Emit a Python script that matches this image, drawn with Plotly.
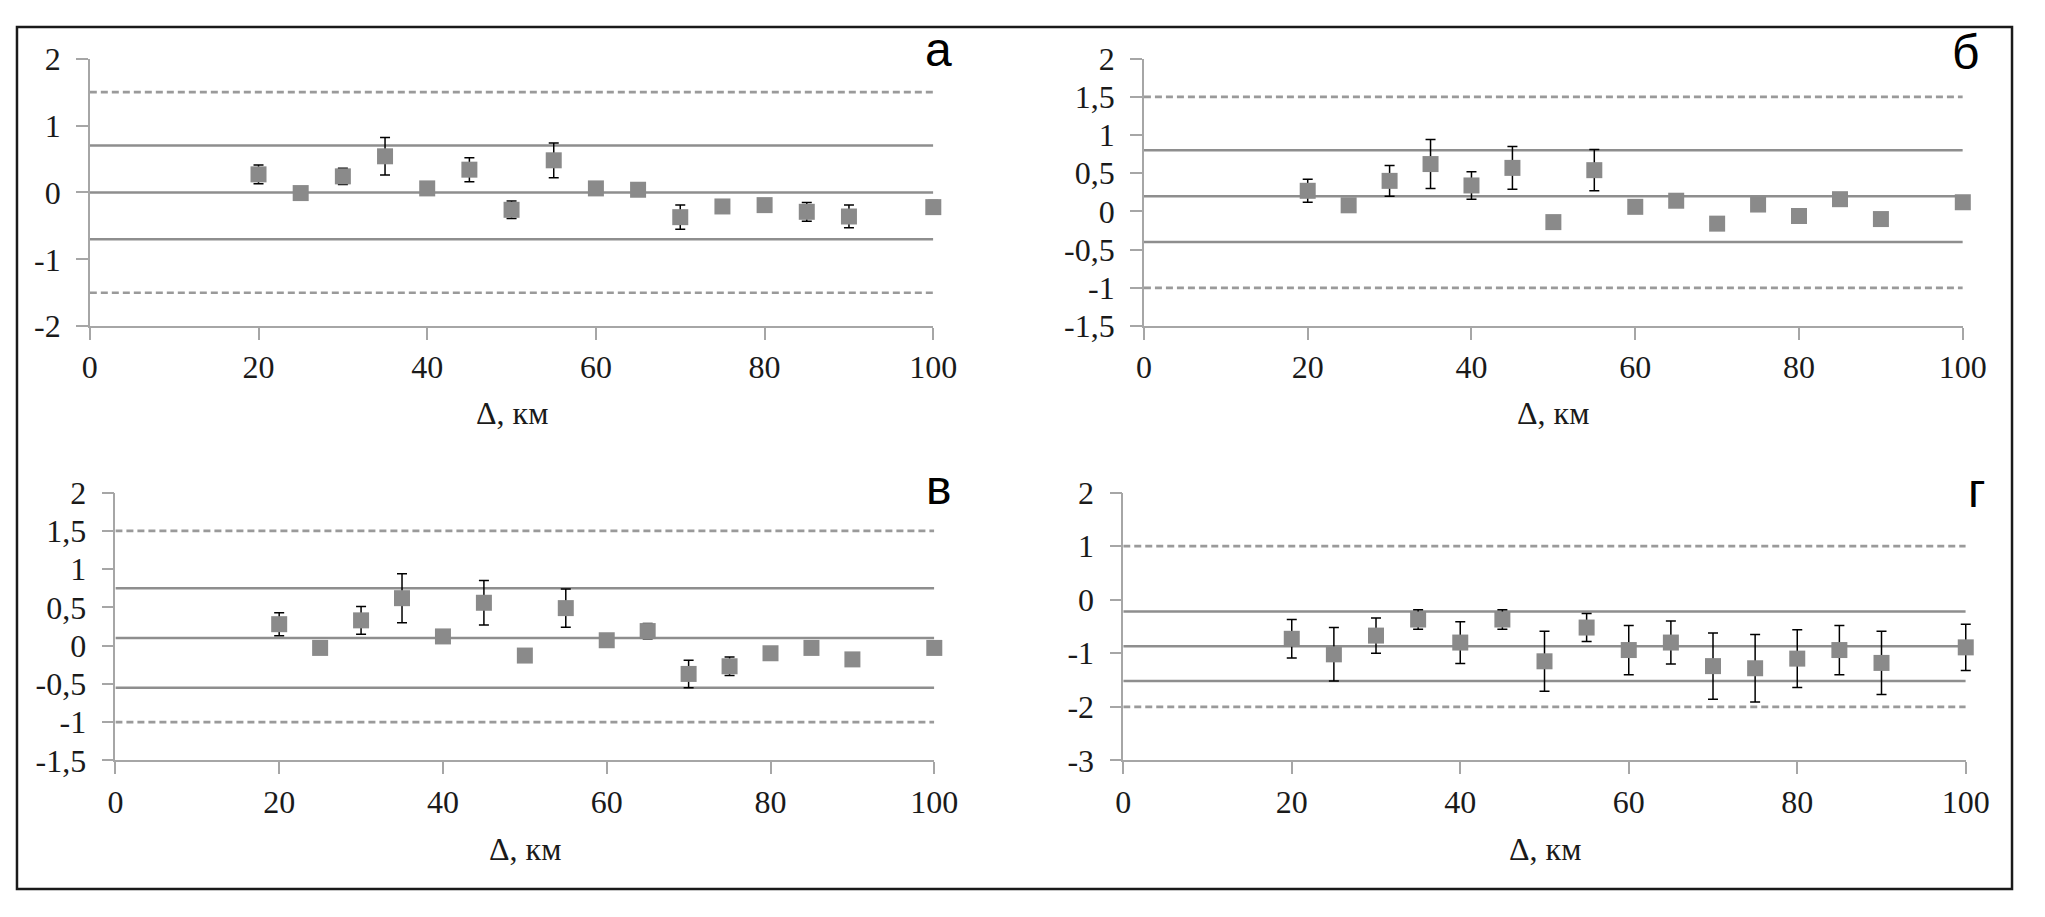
import plotly.graph_objects as go

# page is 2045x917; the html body keeps its default 8px margin, so the figure is 16px smaller
OFF = 8
W, H = 2029, 900

# ---- data ----
dist = [20, 25, 30, 35, 40, 45, 50, 55, 60, 65, 70, 75, 80, 85, 90, 100]

a_vals = [0.27, -0.01, 0.24, 0.54, 0.06, 0.34, -0.26, 0.48, 0.06, 0.04, -0.37, -0.21, -0.19, -0.29, -0.36, -0.22]
a_err = [0.14, 0.05, 0.12, 0.28, 0.05, 0.18, 0.13, 0.26, 0.05, 0.05, 0.18, 0.10, 0.08, 0.14, 0.17, 0.10]
a_solid = [0.7, 0.0, -0.7]
a_dash = [1.5, -1.5]

b_vals = [0.27, 0.08, 0.40, 0.62, 0.34, 0.57, -0.14, 0.54, 0.06, 0.14, -0.16, 0.09, -0.06, 0.16, -0.10, 0.12]
b_err = [0.15, 0.03, 0.20, 0.32, 0.18, 0.28, 0.03, 0.27, 0.03, 0.05, 0.03, 0.05, 0.03, 0.07, 0.03, 0.03]
b_solid = [0.8, 0.2, -0.4]
b_dash = [1.5, -1.0]

v_vals = [0.28, -0.03, 0.33, 0.62, 0.12, 0.56, -0.13, 0.49, 0.07, 0.19, -0.37, -0.27, -0.10, -0.03, -0.18, -0.03]
v_err = [0.15, 0.03, 0.18, 0.32, 0.05, 0.29, 0.03, 0.25, 0.03, 0.10, 0.18, 0.12, 0.03, 0.03, 0.08, 0.03]
v_solid = [0.75, 0.1, -0.55]
v_dash = [1.5, -1.0]

g_vals = [-0.73, -1.02, -0.67, -0.37, -0.80, -0.37, -1.15, -0.52, -0.94, -0.80, -1.24, -1.28, -1.10, -0.94, -1.18, -0.89]
g_err = [0.36, 0.50, 0.33, 0.18, 0.39, 0.18, 0.56, 0.26, 0.46, 0.40, 0.62, 0.63, 0.54, 0.46, 0.59, 0.43]
g_solid = [-0.22, -0.87, -1.52]
g_dash = [1.0, -2.0]

x_ticks = [0, 20, 40, 60, 80, 100]
x_ticktext = ["0", "20", "40", "60", "80", "100"]
y_ticks_a = [2, 1, 0, -1, -2]
y_text_a = ["2", "1", "0", "-1", "-2"]
y_ticks_b = [2, 1.5, 1, 0.5, 0, -0.5, -1, -1.5]
y_text_b = ["2", "1,5", "1", "0,5", "0", "-0,5", "-1", "-1,5"]
y_ticks_g = [2, 1, 0, -1, -2, -3]
y_text_g = ["2", "1", "0", "-1", "-2", "-3"]

panel_labels = ["а", "б", "в", "г"]
x_title = "Δ, км"
X_MIN, X_MAX = 0, 100

# ---- layout geometry (page pixels) ----
panels = [
    dict(vals=a_vals, err=a_err, solid=a_solid, dash=a_dash, yr=[-2, 2], yt=y_ticks_a, ytt=y_text_a,
         px=(83, 940), py=(42, 320.7), lab=(945, 32), title_y=411),
    dict(vals=b_vals, err=b_err, solid=b_solid, dash=b_dash, yr=[-1.5, 2], yt=y_ticks_b, ytt=y_text_b,
         px=(1154, 1986), py=(42, 320.5), lab=(1989, 36), title_y=411),
    dict(vals=v_vals, err=v_err, solid=v_solid, dash=v_dash, yr=[-1.5, 2], yt=y_ticks_b, ytt=y_text_b,
         px=(109, 941), py=(494, 773), lab=(946, 489), title_y=865),
    dict(vals=g_vals, err=g_err, solid=g_solid, dash=g_dash, yr=[-3, 2], yt=y_ticks_g, ytt=y_text_g,
         px=(1133, 1989), py=(494, 773), lab=(2000, 492), title_y=865),
]


def fx(px):
    return (px - OFF) / W


def fy(py):
    return 1 - (py - OFF) / H


AXIS_COL = "#a6a6a6"
LINE_COL = "#8e8e8e"
DASH_COL = "#9a9a9a"
MARK_COL = "#8a8a8a"
TXT_COL = "#1a1a1a"
SERIF = "Liberation Serif, Times New Roman, serif"
SANS = "Liberation Sans, Arial, sans-serif"
FS = 32
EXT = 10  # px of extra clip room for the marker/error-bar layer

fig = go.Figure()
layout = dict(width=W, height=H, margin=dict(l=0, r=0, t=0, b=0),
              paper_bgcolor="white", plot_bgcolor="rgba(0,0,0,0)", showlegend=False,
              font=dict(family=SERIF, size=FS, color=TXT_COL),
              annotations=[], shapes=[])

for i, p in enumerate(panels):
    n = "" if i == 0 else str(i + 1)
    xa, ya = "x" + n, "y" + n
    m = str(i + 5)
    xm = "x" + m
    for lv in p["solid"]:
        fig.add_trace(go.Scatter(x=[X_MIN, X_MAX], y=[lv, lv], mode="lines", xaxis=xa, yaxis=ya,
                                 line=dict(color=LINE_COL, width=2.5), hoverinfo="skip"))
    for lv in p["dash"]:
        fig.add_trace(go.Scatter(x=[X_MIN, X_MAX], y=[lv, lv], mode="lines", xaxis=xa, yaxis=ya,
                                 line=dict(color=DASH_COL, width=2.7, dash="7px,4px"), hoverinfo="skip"))
    fig.add_trace(go.Scatter(x=dist, y=p["vals"], mode="markers", xaxis=xm, yaxis=ya,
                             marker=dict(symbol="square", size=16, color=MARK_COL),
                             error_y=dict(type="data", array=p["err"], visible=True,
                                          color="#000000", thickness=1.5, width=5),
                             cliponaxis=False))
    xd = [fx(p["px"][0]), fx(p["px"][1])]
    yd = [fy(p["py"][1]), fy(p["py"][0])]
    span = p["px"][1] - p["px"][0]
    layout["xaxis" + n] = dict(domain=xd, anchor=ya, range=[X_MIN, X_MAX], tickvals=x_ticks, ticktext=x_ticktext,
                               ticks="outside", ticklen=12, tickwidth=1.5, tickcolor=AXIS_COL,
                               showline=True, linecolor=AXIS_COL, linewidth=1.5, showgrid=False,
                               zeroline=False, ticklabelstandoff=0,
                               tickfont=dict(family=SERIF, size=FS, color=TXT_COL))
    layout["xaxis" + m] = dict(domain=[xd[0], fx(p["px"][1] + EXT)], anchor=ya,
                               range=[X_MIN, X_MAX + (X_MAX - X_MIN) * EXT / span],
                               visible=False, showgrid=False, zeroline=False)
    layout["yaxis" + n] = dict(domain=yd, anchor=xa, range=p["yr"], tickvals=p["yt"], ticktext=p["ytt"],
                               ticks="outside", ticklen=12, tickwidth=1.5, tickcolor=AXIS_COL,
                               showline=True, linecolor=AXIS_COL, linewidth=1.5, showgrid=False,
                               zeroline=False, ticklabelstandoff=9,
                               tickfont=dict(family=SERIF, size=FS, color=TXT_COL))
    layout["annotations"].append(dict(text=x_title, xref="paper", yref="paper",
                                      x=(xd[0] + xd[1]) / 2, y=fy(p["title_y"]),
                                      xanchor="center", yanchor="middle", showarrow=False,
                                      font=dict(family=SERIF, size=FS, color=TXT_COL)))
    layout["annotations"].append(dict(text=panel_labels[i], xref="paper", yref="paper",
                                      x=fx(p["lab"][0]), y=fy(p["lab"][1]),
                                      xanchor="center", yanchor="middle", showarrow=False,
                                      font=dict(family=SANS, size=48, color="#000000")))

layout["shapes"].append(dict(type="rect", xref="paper", yref="paper",
                             x0=1 / W, x1=1 - 1 / W, y0=1 / H, y1=1 - 1 / H,
                             line=dict(color="#1a1a1a", width=2.5), fillcolor="rgba(0,0,0,0)"))

fig.update_layout(**layout)
fig.write_html("out.html", config={"displayModeBar": False})
